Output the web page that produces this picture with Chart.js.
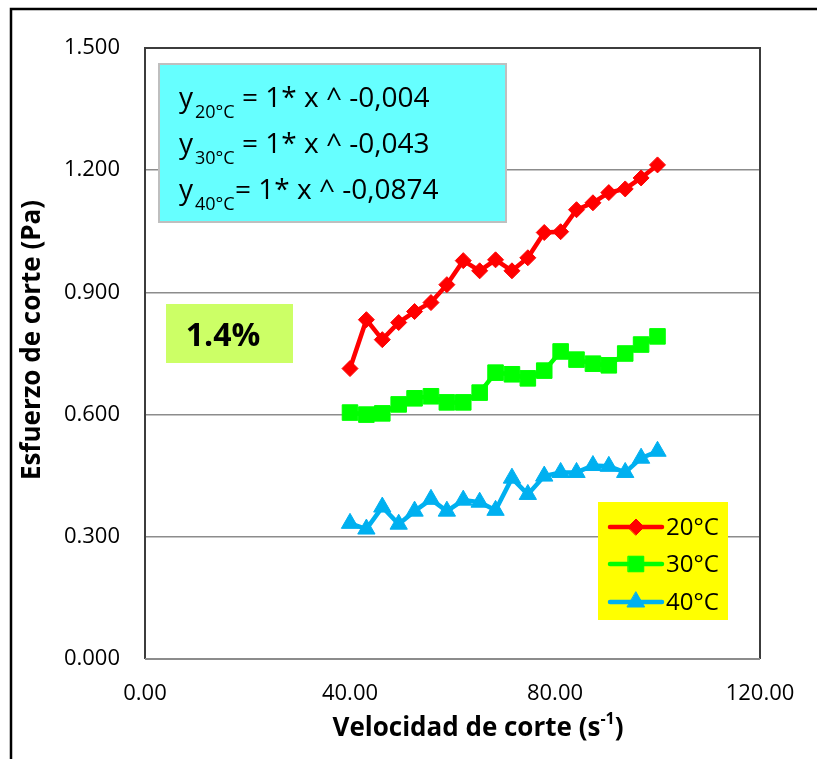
<!DOCTYPE html>
<html>
<head>
<meta charset="utf-8">
<script src="https://cdn.jsdelivr.net/npm/chart.js@4.4.0/dist/chart.umd.min.js"></script>
<style>
  html, body { margin: 0; padding: 0; background: #fff; }
</style>
</head>
<body>
<canvas id="reologia" width="817" height="759"></canvas>
<script>
// velocidad de corte (s-1) y esfuerzo de corte (Pa)
const velocidad = [40.0, 43.2, 46.3, 49.5, 52.6, 55.8, 58.9, 62.1, 65.3, 68.4,
                   71.6, 74.7, 77.9, 81.1, 84.2, 87.4, 90.5, 93.7, 96.8, 100.0];
const esfuerzo20 = [0.713, 0.833, 0.784, 0.826, 0.853, 0.875, 0.919, 0.978, 0.953, 0.980,
                    0.953, 0.985, 1.047, 1.049, 1.103, 1.120, 1.145, 1.154, 1.181, 1.213];
const esfuerzo30 = [0.605, 0.600, 0.603, 0.625, 0.640, 0.645, 0.630, 0.630, 0.654, 0.703,
                    0.699, 0.689, 0.708, 0.755, 0.735, 0.725, 0.721, 0.750, 0.772, 0.792];
const esfuerzo40 = [0.333, 0.319, 0.373, 0.331, 0.363, 0.392, 0.363, 0.390, 0.385, 0.365,
                    0.444, 0.404, 0.449, 0.458, 0.458, 0.475, 0.473, 0.458, 0.493, 0.510];
const temperaturas = ['20°C', '30°C', '40°C'];
const ecuaciones = ['= 1* x ^ -0,004', '= 1* x ^ -0,043', '= 1* x ^ -0,0874'];
const xTicks = [0, 40, 80, 120];
const yTicks = [0, 0.3, 0.6, 0.9, 1.2, 1.5];

const FUENTE = '"Open Sans", "Noto Sans", sans-serif';

function puntos(ys) {
  return velocidad.map(function (x, i) { return { x: x, y: ys[i] }; });
}

const estilos = [
  { color: '#FF0000', punto: 'rectRot', radio: 8 },
  { color: '#00FF00', punto: 'rect', radio: 11 },
  { color: '#00B0F0', punto: 'triangle', radio: 10 }
];
const valores = [esfuerzo20, esfuerzo30, esfuerzo40];

const datasets = temperaturas.map(function (t, i) {
  return {
    label: t,
    data: puntos(valores[i]),
    borderColor: estilos[i].color,
    backgroundColor: estilos[i].color,
    borderWidth: 4.5,
    pointStyle: estilos[i].punto,
    pointRadius: estilos[i].radio,
    pointBorderWidth: 1,
    tension: 0
  };
});

// cuadros de texto, titulos de ejes, marco y leyenda
const marco = {
  id: 'marco',
  afterDraw: function (chart) {
    const ctx = chart.ctx;
    const a = chart.chartArea;
    ctx.save();

    // marco exterior
    ctx.strokeStyle = '#000';
    ctx.lineWidth = 2.5;
    ctx.strokeRect(11, 9, 900, 900);

    // borde del area de trazado
    ctx.lineWidth = 2;
    ctx.strokeStyle = '#3c3c3c';
    ctx.beginPath();
    ctx.moveTo(a.left, a.bottom); ctx.lineTo(a.left, a.top);
    ctx.lineTo(a.right, a.top); ctx.lineTo(a.right, a.bottom);
    ctx.stroke();
    ctx.strokeStyle = '#8c8c8c';
    ctx.beginPath();
    ctx.moveTo(a.left, a.bottom); ctx.lineTo(a.right, a.bottom);
    ctx.stroke();

    // titulos de ejes
    ctx.fillStyle = '#000';
    ctx.textBaseline = 'alphabetic';
    ctx.textAlign = 'left';
    const t1 = 'Velocidad de corte (s', sup = '-1', t2 = ')';
    ctx.font = 'bold 26px ' + FUENTE;
    const w1 = ctx.measureText(t1).width, w3 = ctx.measureText(t2).width;
    ctx.font = 'bold 16px ' + FUENTE;
    const w2 = ctx.measureText(sup).width;
    let xt = 478 - (w1 + w2 + w3) / 2;
    ctx.font = 'bold 26px ' + FUENTE;
    ctx.fillText(t1, xt, 736);
    ctx.font = 'bold 16px ' + FUENTE;
    ctx.fillText(sup, xt + w1, 724);
    ctx.font = 'bold 26px ' + FUENTE;
    ctx.fillText(t2, xt + w1 + w2, 736);

    ctx.save();
    ctx.translate(33, 340);
    ctx.rotate(-Math.PI / 2);
    ctx.textAlign = 'center';
    ctx.textBaseline = 'middle';
    ctx.fillText('Esfuerzo de corte (Pa)', 0, 0);
    ctx.restore();

    // cuadro de ecuaciones
    ctx.fillStyle = '#66FFFF';
    ctx.fillRect(159, 64, 347, 158);
    ctx.strokeStyle = '#BFBFBF';
    ctx.lineWidth = 2;
    ctx.strokeRect(159, 64, 347, 158);

    ctx.save();
    ctx.beginPath();
    ctx.rect(159, 64, 347, 146);
    ctx.clip();
    ctx.fillStyle = '#000';
    ctx.textBaseline = 'alphabetic';
    ctx.textAlign = 'left';
    const bases = [107, 153, 199];
    const xEc = [242, 242, 235];
    for (let i = 0; i < 3; i++) {
      ctx.font = '28px ' + FUENTE;
      ctx.fillText('y', 179, bases[i]);
      ctx.font = '18px ' + FUENTE;
      ctx.fillText(temperaturas[i], 195, bases[i] + 11);
      ctx.font = '28px ' + FUENTE;
      ctx.fillText(ecuaciones[i], xEc[i], bases[i]);
    }
    ctx.restore();

    // cuadro 1.4%
    ctx.fillStyle = '#CCFF66';
    ctx.fillRect(166, 304, 127, 59);
    ctx.fillStyle = '#000';
    ctx.font = 'bold 32px ' + FUENTE;
    ctx.textAlign = 'center';
    ctx.textBaseline = 'middle';
    ctx.fillText('1.4%', 223, 337);

    // leyenda
    ctx.fillStyle = '#FFFF00';
    ctx.fillRect(598, 502, 130, 118);
    const filas = [527, 564, 602];
    for (let i = 0; i < 3; i++) {
      const e = estilos[i];
      ctx.strokeStyle = e.color;
      ctx.lineWidth = 4.5;
      ctx.lineCap = 'round';
      ctx.beginPath();
      ctx.moveTo(610, filas[i]); ctx.lineTo(662, filas[i]);
      ctx.stroke();
      ctx.fillStyle = e.color;
      ctx.lineWidth = 1;
      Chart.helpers.drawPoint(ctx, { pointStyle: e.punto, radius: e.radio, rotation: 0, borderWidth: 1 }, 636, filas[i]);
      ctx.fillStyle = '#000';
      ctx.font = '24px ' + FUENTE;
      ctx.textAlign = 'left';
      ctx.textBaseline = 'middle';
      ctx.fillText(temperaturas[i], 666, filas[i] + 1);
    }
    ctx.restore();
  }
};

const ctx = document.getElementById('reologia');
const grafico = new Chart(ctx, {
  type: 'line',
  data: { datasets: datasets },
  options: {
    responsive: false,
    animation: false,
    layout: { padding: { top: 48, right: 57, left: 0, bottom: 0 } },
    plugins: {
      legend: { display: false },
      tooltip: { enabled: false }
    },
    scales: {
      x: {
        type: 'linear',
        min: 0,
        max: 120,
        afterBuildTicks: function (s) { s.ticks = xTicks.map(function (v) { return { value: v }; }); },
        afterFit: function (s) { s.height = 100; },
        ticks: {
          color: '#000',
          padding: 22,
          maxRotation: 0,
          font: { family: FUENTE, size: 22 },
          callback: function (v) { return Number(v).toFixed(2); }
        },
        grid: { display: false, drawTicks: false },
        border: { display: false }
      },
      y: {
        min: 0,
        max: 1.5,
        afterBuildTicks: function (s) { s.ticks = yTicks.map(function (v) { return { value: v }; }); },
        afterFit: function (s) { s.width = 145; },
        ticks: {
          color: '#000',
          padding: 25,
          font: { family: FUENTE, size: 22 },
          callback: function (v) { return Number(v).toFixed(3); }
        },
        grid: { color: '#8c8c8c', lineWidth: 1.5, drawTicks: false },
        border: { display: false }
      }
    }
  },
  plugins: [marco]
});
</script>
</body>
</html>
